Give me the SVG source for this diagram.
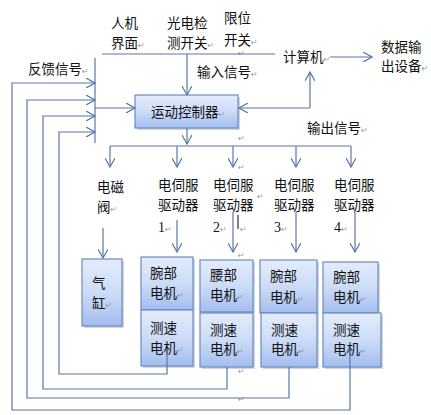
<svg xmlns="http://www.w3.org/2000/svg" width="431" height="415" viewBox="0 0 431 415">
<defs>
<linearGradient id="g" x1="0" y1="0" x2="0" y2="1">
<stop offset="0" stop-color="#e4ecfb"/>
<stop offset="0.5" stop-color="#ccdcf7"/>
<stop offset="1" stop-color="#a3bdee"/>
</linearGradient>
<marker id="a" viewBox="0 0 10 10" refX="9" refY="5" markerWidth="10" markerHeight="10" markerUnits="userSpaceOnUse" orient="auto">
<path d="M0,0 L9,5 L0,10" fill="none" stroke="#5a77a8" stroke-width="1.2"/>
</marker>
</defs>
<style>
text{font-family:"Noto Sans CJK SC","Noto Sans",sans-serif;font-size:13.5px;fill:#111}
.r{font-family:"DejaVu Sans",sans-serif;font-size:8px;fill:#999}
.n{font-family:"Liberation Serif",serif;font-size:14px}
.box{fill:url(#g);stroke:#6d8bc2;stroke-width:1.2}
.sh{fill:#9aa3b3;opacity:0.45}
.c{fill:none;stroke:#5a77a8;stroke-width:1.2}
.ar{marker-end:url(#a)}
</style>
<rect width="431" height="415" fill="#fff"/>

<g id="labels">
<text x="111" y="28">人机</text>
<text x="111" y="48">界面<tspan class="r">↵</tspan></text>
<text x="167" y="28">光电检</text>
<text x="167" y="48">测开关<tspan class="r">↵</tspan></text>
<text x="224" y="23">限位</text>
<text x="224" y="45">开关<tspan class="r">↵</tspan></text>
<text x="28" y="74">反馈信号<tspan class="r">↵</tspan></text>
<text x="197" y="77">输入信号<tspan class="r">↵</tspan></text>
<text x="307" y="133">输出信号<tspan class="r">↵</tspan></text>
<text class="r" x="238" y="56">↵</text>
<text class="r" x="238" y="141">↵</text>
<text class="r" x="238" y="170">↵</text>
<text class="r" x="257" y="199">↵</text>
<text class="r" x="238" y="258">↵</text>
<text class="r" x="238" y="374">↵</text>
<text class="r" x="238" y="402">↵</text>
</g>

<g id="computer">
<text x="283" y="62">计算机<tspan class="r">↵</tspan></text>
</g>
<g id="data-output">
<text x="381" y="52">数据输</text>
<text x="381" y="71">出设备<tspan class="r">↵</tspan></text>
</g>

<g id="controller">
<rect class="sh" x="137" y="97" width="103" height="33"/>
<rect class="box" x="135" y="95" width="103" height="33"/>
<text x="151" y="117">运动控制器<tspan class="r">↵</tspan></text>
</g>

<g id="valve">
<text x="97" y="192">电磁</text>
<text x="97" y="212">阀<tspan class="r">↵</tspan></text>
</g>
<g id="driver1">
<text x="158" y="190">电伺服</text>
<text x="158" y="210">驱动器</text>
<text class="n" x="158" y="232">1<tspan class="r">↵</tspan></text>
</g>
<g id="driver2">
<text x="213" y="190">电伺服</text>
<text x="213" y="210">驱动器</text>
<text class="n" x="213" y="232">2<tspan class="r">↵</tspan></text>
<line x1="238" y1="215" x2="238" y2="229" stroke="#000" stroke-width="1"/>
<text class="r" x="240" y="232">↵</text>
</g>
<g id="driver3">
<text x="274" y="190">电伺服</text>
<text x="274" y="210">驱动器</text>
<text class="n" x="274" y="232">3<tspan class="r">↵</tspan></text>
</g>
<g id="driver4">
<text x="334" y="190">电伺服</text>
<text x="334" y="210">驱动器</text>
<text class="n" x="334" y="232">4<tspan class="r">↵</tspan></text>
</g>

<g id="cylinder">
<rect class="sh" x="84" y="261" width="40" height="67"/>
<rect class="box" x="82" y="259" width="40" height="67"/>
<text x="92" y="288">气</text>
<text x="92" y="308">缸<tspan class="r">↵</tspan></text>
</g>

<g id="motor1">
<rect class="sh" x="143" y="259" width="52" height="53"/>
<rect class="box" x="141" y="257" width="52" height="53"/>
<text x="150" y="278">腕部</text>
<text x="150" y="298">电机<tspan class="r">↵</tspan></text>
</g>
<g id="speed1">
<rect class="sh" x="143" y="312" width="52" height="56"/>
<rect class="box" x="141" y="310" width="52" height="56"/>
<text x="150" y="333">测速</text>
<text x="150" y="353">电机<tspan class="r">↵</tspan></text>
</g>
<g id="motor2">
<rect class="sh" x="202" y="262" width="53" height="52"/>
<rect class="box" x="200" y="260" width="53" height="52"/>
<text x="210" y="280">腰部</text>
<text x="210" y="300">电机<tspan class="r">↵</tspan></text>
</g>
<g id="speed2">
<rect class="sh" x="202" y="315" width="53" height="54"/>
<rect class="box" x="200" y="313" width="53" height="54"/>
<text x="210" y="335">测速</text>
<text x="210" y="354">电机<tspan class="r">↵</tspan></text>
</g>
<g id="motor3">
<rect class="sh" x="262" y="262" width="57" height="53"/>
<rect class="box" x="260" y="260" width="57" height="53"/>
<text x="270" y="281">腕部</text>
<text x="270" y="302">电机<tspan class="r">↵</tspan></text>
</g>
<g id="speed3">
<rect class="sh" x="263" y="315" width="56" height="54"/>
<rect class="box" x="261" y="313" width="56" height="54"/>
<text x="271" y="335">测速</text>
<text x="271" y="354">电机<tspan class="r">↵</tspan></text>
</g>
<g id="motor4">
<rect class="sh" x="325" y="264" width="55" height="51"/>
<rect class="box" x="323" y="262" width="55" height="51"/>
<text x="333" y="282">腕部</text>
<text x="333" y="302">电机<tspan class="r">↵</tspan></text>
</g>
<g id="speed4">
<rect class="sh" x="325" y="315" width="58" height="54"/>
<rect class="box" x="323" y="313" width="58" height="54"/>
<text x="333" y="335">测速</text>
<text x="333" y="354">电机<tspan class="r">↵</tspan></text>
</g>

<g id="connectors">
<line class="c" x1="102" y1="54" x2="275" y2="54"/>
<line class="c ar" x1="187" y1="54" x2="187" y2="95"/>
<line class="c ar" x1="330" y1="57" x2="372" y2="57"/>
<line class="c ar" x1="310" y1="108" x2="310" y2="72"/>
<line class="c ar" x1="310" y1="108" x2="239" y2="108"/>
<line class="c" x1="95" y1="58" x2="95" y2="143"/>
<line class="c ar" x1="95" y1="108" x2="135" y2="108"/>
<line class="c ar" x1="187" y1="128" x2="187" y2="144"/>
<line class="c" x1="110" y1="146" x2="351" y2="146"/>
<line class="c ar" x1="110" y1="146" x2="110" y2="167"/>
<line class="c ar" x1="177" y1="146" x2="177" y2="167"/>
<line class="c ar" x1="233" y1="146" x2="233" y2="167"/>
<line class="c ar" x1="296" y1="146" x2="296" y2="167"/>
<line class="c ar" x1="351" y1="146" x2="351" y2="167"/>
<line class="c ar" x1="103" y1="228" x2="103" y2="258"/>
<line class="c ar" x1="177" y1="220" x2="177" y2="252"/>
<line class="c ar" x1="233" y1="212" x2="233" y2="252"/>
<line class="c ar" x1="296" y1="212" x2="296" y2="252"/>
<line class="c ar" x1="355" y1="212" x2="355" y2="252"/>
<polyline class="c ar" points="350,348 350,410 12,410 12,83 95,83"/>
<polyline class="c ar" points="289,367 289,398 27,398 27,100 95,100"/>
<polyline class="c ar" points="227,367 227,389 43,389 43,116 95,116"/>
<polyline class="c ar" points="167,353 167,374 59,374 59,132 95,132"/>
</g>
</svg>
